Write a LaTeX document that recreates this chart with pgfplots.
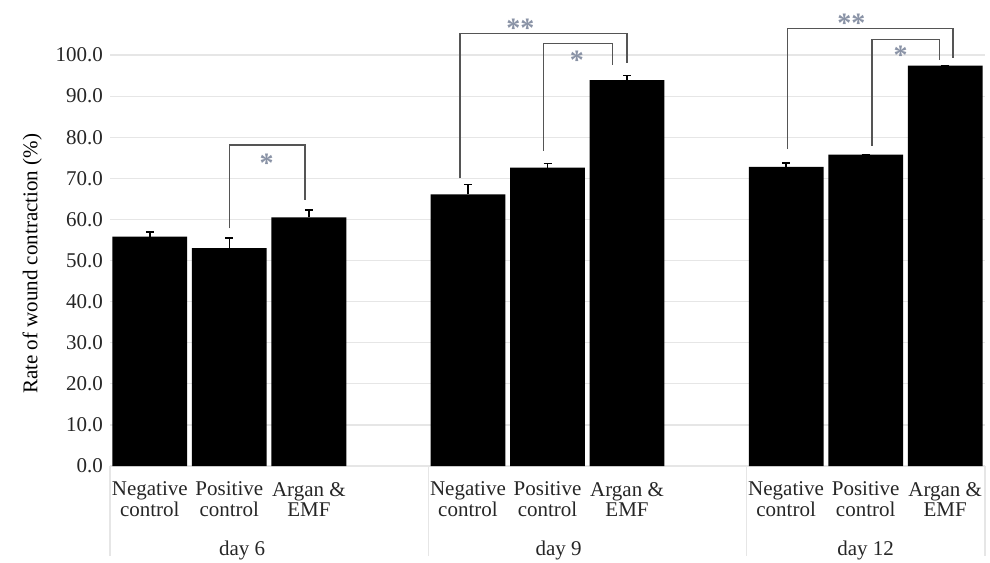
\documentclass[border=0pt]{standalone}
\usepackage{pgfplots}
\pgfplotsset{compat=1.18}
\usepackage{fontspec}
\setmainfont{Liberation Serif}
\definecolor{gridc}{HTML}{E6E6E6}
\definecolor{brk}{HTML}{555555}
\definecolor{star}{HTML}{8A93A6}
\begin{document}
\begin{tikzpicture}
\useasboundingbox (-55pt,-48pt) rectangle (440pt,233pt);
\begin{axis}[
  scale only axis,
  width=437.5pt, height=233pt,
  xmin=-0.5, xmax=10.5,
  ymin=0, ymax=113.4,
  axis line style={draw=none},
  ybar, bar width=0.94,
  ytick={0,10,...,100},
  ymajorgrids, grid style={gridc, line width=0.6pt},
  yticklabel style={font=\fontsize{10.5}{12}\selectfont, /pgf/number format/.cd, fixed, fixed zerofill, precision=1},
  /pgf/number format/assume math mode=true,
  xtick={0,1,2,4,5,6,8,9,10},
  xticklabels={{Negative\\control},{Positive\\control},{Argan \&\\EMF},{Negative\\control},{Positive\\control},{Argan \&\\EMF},{Negative\\control},{Positive\\control},{Argan \&\\EMF}},
  xticklabel style={font=\fontsize{10.5}{10.4}\selectfont, align=center, yshift=-4.5pt},
  major tick length=0pt,
  tick label style={text=black!85},
  ylabel={Rate of wound contraction (\%)},
  ylabel style={font=\fontsize{10.5}{12}\selectfont, at={(ticklabel cs:0.425)}, xshift=2pt},
  clip=false,
]
\addplot[fill=black, draw=none,
  error bars/.cd, y dir=plus, y explicit,
  error bar style={black, line width=0.8pt},
  error mark options={black, rotate=90, mark size=2pt, line width=0.8pt}]
  table[x=x, y=y, y error=e] {
x y e
0 55.8 1.2
1 53.0 2.5
2 60.5 1.8
4 66.1 2.4
5 72.6 1.0
6 93.9 1.1
8 72.8 0.9
9 75.8 0.0
10 97.4 0.0
};
% category separators
\draw[gridc, line width=0.6pt] (axis cs:-0.5,0) -- ([yshift=-45pt]axis cs:-0.5,0);
\draw[gridc, line width=0.6pt] (axis cs:3.5,0) -- ([yshift=-45pt]axis cs:3.5,0);
\draw[gridc, line width=0.6pt] (axis cs:7.5,0) -- ([yshift=-45pt]axis cs:7.5,0);
\draw[gridc, line width=0.6pt] (axis cs:10.5,0) -- ([yshift=-45pt]axis cs:10.5,0);
% group labels
\node[font=\fontsize{10.5}{12}\selectfont, text=black!85] at ([yshift=-42pt]axis cs:1.16,0) {day 6};
\node[font=\fontsize{10.5}{12}\selectfont, text=black!85] at ([yshift=-42pt]axis cs:5.14,0) {day 9};
\node[font=\fontsize{10.5}{12}\selectfont, text=black!85] at ([yshift=-42pt]axis cs:9.0,0) {day 12};
% brackets
\draw[brk, line width=0.7pt] (axis cs:1.0,57.8) -- (axis cs:1.0,78.1) -- (axis cs:1.95,78.1) -- (axis cs:1.95,64.7);
\draw[brk, line width=0.7pt] (axis cs:3.90,70.0) -- (axis cs:3.90,105.3) -- (axis cs:6.0,105.3) -- (axis cs:6.0,98.1);
\draw[brk, line width=0.7pt] (axis cs:4.95,76.7) -- (axis cs:4.95,102.8) -- (axis cs:5.82,102.8) -- (axis cs:5.82,97.6);
\draw[brk, line width=0.7pt] (axis cs:8.02,77.1) -- (axis cs:8.02,106.5) -- (axis cs:10.1,106.5) -- (axis cs:10.1,99.4);
\draw[brk, line width=0.7pt] (axis cs:9.08,77.9) -- (axis cs:9.08,103.8) -- (axis cs:9.93,103.8) -- (axis cs:9.93,98.8);
% stars
\node[star, font=\fontsize{14}{14}\selectfont\bfseries, yshift=-3pt] at (axis cs:1.47,75.2) {*};
\node[star, font=\fontsize{14}{14}\selectfont\bfseries, yshift=-3pt] at (axis cs:4.66,108.0) {**};
\node[star, font=\fontsize{14}{14}\selectfont\bfseries, yshift=-3pt] at (axis cs:5.37,100.2) {*};
\node[star, font=\fontsize{14}{14}\selectfont\bfseries, yshift=-3pt] at (axis cs:8.82,109.2) {**};
\node[star, font=\fontsize{14}{14}\selectfont\bfseries, yshift=-3pt] at (axis cs:9.44,101.5) {*};
\end{axis}
\end{tikzpicture}
\end{document}
